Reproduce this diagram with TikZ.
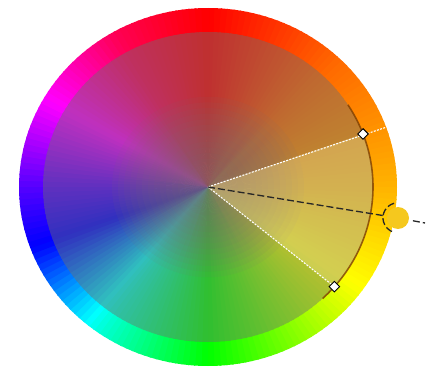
\documentclass[tikz,border=0pt]{standalone}
\usepackage{tikz}
\usetikzlibrary{shapes.geometric}
\tikzset{
  spoke/.style={white, line width=1.1pt, dash pattern=on 2pt off 1.3pt},
  aimln/.style={black!85, line width=1.3pt, dash pattern=on 7pt off 3pt},
  handle/.style={diamond, draw=black, fill=white, line width=0.9pt, inner sep=0pt, minimum size=11pt},
  rimarc/.style={orange!50!black, line width=1.6pt, opacity=0.8},
  hilite/.style={hilitecol, opacity=0.32},
  hubveil/.style={hubgray, opacity=0.08},
}
\definecolor{hubgray}{RGB}{125,106,112}
\definecolor{hilitecol}{RGB}{255,238,150}
\definecolor{knobyellow}{RGB}{245,200,30}

\begin{document}
\begin{tikzpicture}[x=1pt,y=1pt]
  \useasboundingbox (0,0) rectangle (426,370);
  \coordinate (ctr) at (208,183);
  \begin{scope}[shift={(ctr)}]
    % hue wheel: bright outer ring first, then the darker inner disc
    \foreach \rx/\ry/\mix in {189/179/100, 165/155/75}{
      \begin{scope}[xscale=\rx, yscale=\ry]
      \foreach \aa/\ha/\ab/\hb in {90/0/45/25, 45/25/0/42, 0/42/-35/60, -35/60/-90/120,
          -90/120/-125/170, -125/170/-160/240, -160/240/-180/260, -180/260/-210/300,
          -210/300/-240/340, -240/340/-270/360}{
        \pgfmathtruncatemacro{\n}{round(((\aa)-(\ab))/2)}
        \foreach \k in {1,...,\n}{
          \pgfmathsetmacro{\ta}{(\aa)-(\k-1)*((\aa)-(\ab))/\n}
          \pgfmathsetmacro{\tb}{(\aa)-\k*((\aa)-(\ab))/\n-0.5}
          \pgfmathsetmacro{\hu}{mod((\ha)+((\hb)-(\ha))*(\k-0.5)/\n,360)}
          \definecolor{wc}{Hsb}{\hu,1,1}
          \fill[wc!\mix!black] (0,0) -- (\ta:1)
            arc[start angle=\ta, end angle=\tb, radius=1] -- cycle;
        }
      }
      \end{scope}
    }
    % grey hub, thinning out towards the rim
    \foreach \r in {6,12,...,96}
      \fill[hubveil] (0,0) ellipse[x radius=\r, y radius=0.94*\r];
    % selected range
    \coordinate (rimA) at (20:165 and 155);
    \coordinate (rimB) at (-40:165 and 155);
    \coordinate (spokeEnd) at (19.5:189 and 179);
    \fill[hilite] (0,0) -- (rimA)
      arc[start angle=20, end angle=-40, x radius=165, y radius=155] -- cycle;
    \draw[rimarc] (32:165 and 155)
      arc[start angle=32, end angle=-46, x radius=165, y radius=155];
  \end{scope}
  \draw[spoke] (ctr) -- (spokeEnd);
  \draw[spoke] (ctr) -- (rimB);
  \node[handle] (hA) at (rimA) {};
  \node[handle] (hB) at (rimB) {};
  % aim line and knob
  \coordinate (aimEnd) at (425,147);
  \node[circle, minimum size=30pt, inner sep=0pt] (knob) at (398,152) {};
  \draw[aimln] (ctr) -- (knob);
  \draw[aimln] (knob) -- (aimEnd);
  \fill[knobyellow] (knob.center) circle[radius=11];
  \draw[aimln] (knob.105) arc[start angle=105, end angle=255, radius=15];
\end{tikzpicture}
\end{document}
